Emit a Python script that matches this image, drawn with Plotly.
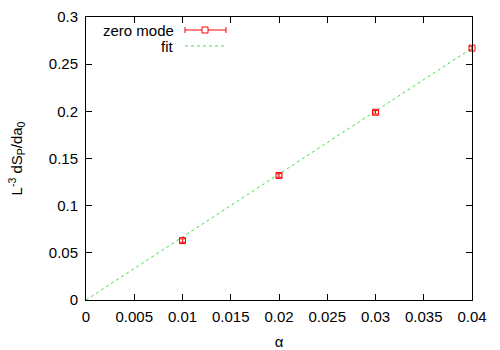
import plotly.graph_objects as go

alpha = [0.01, 0.02, 0.03, 0.04]
zero_mode = [0.063, 0.132, 0.199, 0.267]
zero_err = [0.0018, 0.0018, 0.0018, 0.0018]
fit_x = [0.0, 0.04]
fit_slope = 6.675
fit_y = [fit_slope * x for x in fit_x]

x_ticks = [0, 0.005, 0.01, 0.015, 0.02, 0.025, 0.03, 0.035, 0.04]
x_labels = ["0", "0.005", "0.01", "0.015", "0.02", "0.025", "0.03", "0.035", "0.04"]
y_ticks = [0, 0.05, 0.1, 0.15, 0.2, 0.25, 0.3]
y_labels = ["0", "0.05", "0.1", "0.15", "0.2", "0.25", "0.3"]

FONT = "Liberation Sans, Arial, sans-serif"
RED = "#ff0000"
GREEN = "#44dd44"

fig = go.Figure()
fig.add_trace(go.Scatter(
    x=fit_x, y=fit_y, mode="lines", name="fit",
    line=dict(color=GREEN, width=1, dash="dot"), showlegend=False, cliponaxis=False))
fig.add_trace(go.Scatter(
    x=alpha, y=zero_mode, mode="markers", name="zero mode",
    marker=dict(symbol="square-open", size=6, color=RED, line=dict(width=1, color=RED)),
    error_y=dict(type="data", array=zero_err, color=RED, thickness=1, width=3),
    showlegend=False, cliponaxis=False))

W, H = 500, 350
L, R, T, B = 86, 28, 17, 50
pw, ph = W - L - R, H - T - B

def px(xp):
    return (xp - L) / pw

def py(yp):
    return 1 - (yp - T) / ph

shapes = []
ly1 = py(30)
shapes.append(dict(type="line", xref="paper", yref="paper", x0=px(185), x1=px(226), y0=ly1, y1=ly1,
                   line=dict(color=RED, width=1)))
for xe in (185, 226):
    shapes.append(dict(type="line", xref="paper", yref="paper", x0=px(xe), x1=px(xe), y0=py(27), y1=py(33),
                       line=dict(color=RED, width=1)))
shapes.append(dict(type="rect", xref="paper", yref="paper", x0=px(202), x1=px(208), y0=py(27), y1=py(33),
                   line=dict(color=RED, width=1), fillcolor="white"))
ly2 = py(46)
shapes.append(dict(type="line", xref="paper", yref="paper", x0=px(185), x1=px(226), y0=ly2, y1=ly2,
                   line=dict(color=GREEN, width=1, dash="dot")))

annotations = [
    dict(text="zero mode", xref="paper", yref="paper", x=px(176), y=ly1, xanchor="right", yanchor="middle",
         showarrow=False, font=dict(family=FONT, size=15, color="black")),
    dict(text="fit", xref="paper", yref="paper", x=px(176), y=ly2, xanchor="right", yanchor="middle",
         showarrow=False, font=dict(family=FONT, size=15, color="black")),
]

fig.update_layout(
    width=W, height=H,
    margin=dict(l=L, r=R, t=T, b=B, autoexpand=False),
    paper_bgcolor="white", plot_bgcolor="white",
    font=dict(family=FONT, size=15, color="black"),
    shapes=shapes, annotations=annotations,
    xaxis=dict(range=[0, 0.04], tickvals=x_ticks, ticktext=x_labels, automargin=False,
               ticks="inside", ticklen=6, tickcolor="black", mirror="allticks", ticklabelstandoff=3,
               showline=True, linecolor="black", linewidth=1, showgrid=False, zeroline=False,
               title=dict(text="α", standoff=12, font=dict(size=15))),
    yaxis=dict(range=[0, 0.3], tickvals=y_ticks, ticktext=y_labels, automargin=False,
               ticks="inside", ticklen=6, tickcolor="black", mirror="allticks", ticklabelstandoff=4,
               showline=True, linecolor="black", linewidth=1, showgrid=False, zeroline=False,
               title=dict(text="L<sup>-3</sup> dS<sub>P</sub>/da<sub>0</sub>", standoff=22, font=dict(size=15))),
)

fig.write_html("out.html", config={"displayModeBar": False},
               post_script="document.body.style.margin='0';")
